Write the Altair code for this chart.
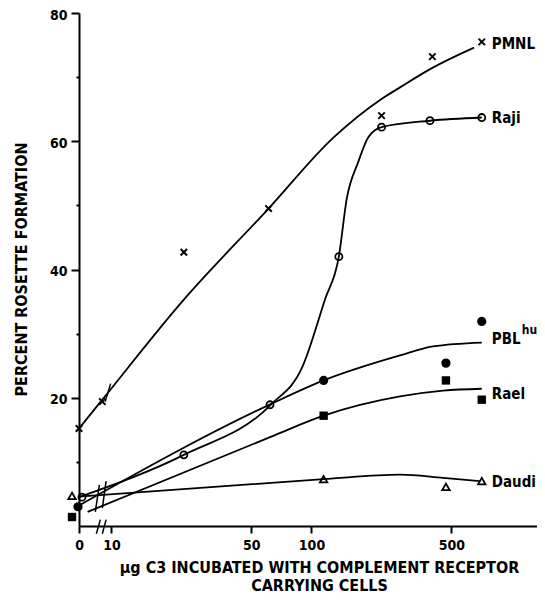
import altair as alt
import pandas as pd
import numpy as np

# ---------------- data ----------------
SERIES = ["PMNL", "Raji", "PBL", "Rael", "Daudi"]

# observed points (dose in µg C3, percent rosette formation)
PMNL_DOSE = [0, 9, 23, 61, 224, 402, 710]
PMNL_PCT = [15.2, 19.4, 42.7, 49.5, 64.0, 73.2, 75.5]
RAJI_DOSE = [0, 23, 62, 137, 224, 391, 710]
RAJI_PCT = [4.5, 11.1, 18.9, 42.0, 62.2, 63.2, 63.7]
PBL_DOSE = [0, 115, 470, 710]
PBL_PCT = [3.0, 22.7, 25.4, 31.9]
RAEL_DOSE = [0, 115, 470, 710]
RAEL_PCT = [1.4, 17.2, 22.7, 19.7]
DAUDI_DOSE = [0, 115, 470, 710]
DAUDI_PCT = [4.7, 7.3, 6.1, 7.0]

# hand-drawn curves
PMNL_CURVE_DOSE = [0, 9, 23, 61, 129, 224, 277, 400, 650]
PMNL_CURVE_PCT = [15.2, 19.7, 35.3, 49.5, 60.6, 66.6, 68.4, 71.4, 74.6]
RAJI_CURVE_DOSE = [0, 23, 62.5, 90, 117, 137, 150, 171, 192, 224, 391, 710]
RAJI_CURVE_PCT = [4.5, 11.1, 18.9, 24.8, 35.4, 42.0, 51.0, 56.7, 60.6, 62.2, 63.2, 63.7]
PBL_CURVE_DOSE = [0, 62.5, 115, 277, 405, 710]
PBL_CURVE_PCT = [3.2, 19.0, 22.7, 26.6, 28.0, 28.6]
RAEL_CURVE_DOSE = [7.6, 62.5, 115, 277, 455, 710]
RAEL_CURVE_PCT = [2.2, 13.9, 17.2, 20.2, 21.1, 21.4]
DAUDI_CURVE_DOSE = [0, 115, 277, 455, 700]
DAUDI_CURVE_PCT = [4.6, 7.3, 8.0, 7.5, 7.0]

# end labels
LABEL_TEXT = ["PMNL", "Raji", "PBL", "Rael", "Daudi"]
LABEL_DOSE = [710, 710, 710, 710, 710]
LABEL_Y = [75.1, 63.7, 29.2, 20.6, 6.9]

# axis ticks
X_TICKS = [0, 10, 50, 100, 500]
Y_TICKS = [10, 20, 30, 40, 50, 60, 70, 80]

# axis-break strokes (x1, y1, x2, y2 in data units)
BREAK_X1 = [8.3, 9.0, 9.3, 8.4, 9.0]
BREAK_Y1 = [2.2, 2.8, 19.4, -1.2, -1.2]
BREAK_X2 = [8.7, 9.4, 9.9, 8.8, 9.4]
BREAK_Y2 = [6.4, 7.0, 22.2, 1.0, 1.0]

# ---------------- layout / style ----------------
ZERO_AT = 6.88      # where the "0" dose sits on the broken log axis
X_MAX = 1341
FONT = "DejaVu Sans Condensed, Liberation Sans Narrow, DejaVu Sans, sans-serif"
ZERO_DX = {"PMNL": 0, "Raji": 3, "PBL": -1, "Rael": -7, "Daudi": -7}


def xpos(d):
    d = np.asarray(d, dtype=float)
    return np.where(d == 0, ZERO_AT, d)


pts = {
    "PMNL": (PMNL_DOSE, PMNL_PCT),
    "Raji": (RAJI_DOSE, RAJI_PCT),
    "PBL": (PBL_DOSE, PBL_PCT),
    "Rael": (RAEL_DOSE, RAEL_PCT),
    "Daudi": (DAUDI_DOSE, DAUDI_PCT),
}
curves = {
    "PMNL": (PMNL_CURVE_DOSE, PMNL_CURVE_PCT),
    "Raji": (RAJI_CURVE_DOSE, RAJI_CURVE_PCT),
    "PBL": (PBL_CURVE_DOSE, PBL_CURVE_PCT),
    "Rael": (RAEL_CURVE_DOSE, RAEL_CURVE_PCT),
    "Daudi": (DAUDI_CURVE_DOSE, DAUDI_CURVE_PCT),
}

pts_df = pd.concat([
    pd.DataFrame({"series": s, "dose": d, "pct": p, "x": xpos(d)})
    for s, (d, p) in pts.items()
])
curve_df = pd.concat([
    pd.DataFrame({"series": s, "dose": d, "pct": p, "x": xpos(d), "order": range(len(d))})
    for s, (d, p) in curves.items()
])
label_df = pd.DataFrame({"name": LABEL_TEXT, "x": LABEL_DOSE, "pct": LABEL_Y})
break_df = pd.DataFrame({"x": BREAK_X1, "pct": BREAK_Y1, "x2": BREAK_X2, "y2": BREAK_Y2})

x_scale = alt.Scale(type="log", domain=[ZERO_AT, X_MAX], nice=False)
y_scale = alt.Scale(domain=[0, 80], nice=False, zero=False)

X_TITLE = ["\u00b5g C3  INCUBATED WITH COMPLEMENT RECEPTOR", "CARRYING  CELLS"]
Y_TITLE = "PERCENT  ROSETTE  FORMATION"

x_axis = alt.Axis(
    values=[ZERO_AT if v == 0 else v for v in X_TICKS],
    labelExpr="datum.value < 9 ? '0' : format(datum.value, 'd')",
    grid=False, tickSize=7, tickWidth=2, domainWidth=2, domainColor="black",
    tickColor="black", labelFont=FONT, labelFontSize=14, labelFontWeight="bold",
    labelColor="black", labelPadding=5, labelFlush=False, labelOverlap=False,
    titleFont=FONT, titleFontSize=16, titleFontWeight="bold", titleColor="black",
    titleX=240, titleY=33, titleAnchor="middle", titleAlign="center",
    titleBaseline="top", titleLineHeight=18,
)
y_axis = alt.Axis(
    values=Y_TICKS,
    labelExpr="datum.value % 20 == 0 ? datum.label : ''",
    grid=False, tickWidth=2, domainWidth=2, domainColor="black", tickColor="black",
    tickSize={"condition": {"test": "datum.value % 20 == 0", "value": 8}, "value": 3},
    labelFont=FONT, labelFontSize=14, labelFontWeight="bold", labelColor="black",
    labelPadding=4, labelOffset=2,
    titleFont=FONT, titleFontSize=16, titleFontWeight="bold", titleColor="black",
    titleX=-58, titleY=256, titleAngle=-90, titleAlign="center", titleBaseline="middle",
)


def XE():
    return alt.X("x:Q", scale=x_scale, axis=x_axis, title=X_TITLE)


def YE():
    return alt.Y("pct:Q", scale=y_scale, axis=y_axis, title=Y_TITLE)


layers = []
for s in SERIES:
    layers.append(
        alt.Chart(curve_df).transform_filter(alt.datum.series == s).mark_line(
            color="black", strokeWidth=1.8, interpolate="monotone", clip=False
        ).encode(x=XE(), y=YE(), order="order:O")
    )

marker_style = {
    "PMNL": dict(shape="M-1,-1L1,1M-1,1L1,-1", filled=False, size=42, strokeWidth=2),
    "Raji": dict(shape="circle", filled=False, size=50, strokeWidth=1.8),
    "PBL": dict(shape="circle", filled=True, size=85),
    "Rael": dict(shape="square", filled=True, size=70),
    "Daudi": dict(shape="triangle-up", filled=False, size=55, strokeWidth=1.8),
}
for s in SERIES:
    st = marker_style[s]
    src = alt.Chart(pts_df).transform_filter(alt.datum.series == s)
    layers.append(
        src.transform_filter(alt.datum.dose > 0)
        .mark_point(color="black", opacity=1, clip=False, **st)
        .encode(x=XE(), y=YE())
    )
    layers.append(
        src.transform_filter(alt.datum.dose == 0)
        .mark_point(color="black", opacity=1, clip=False, xOffset=ZERO_DX[s], **st)
        .encode(x=XE(), y=YE())
    )

# axis-break strokes
layers.append(
    alt.Chart(break_df).mark_rule(color="black", strokeWidth=1.5, clip=False).encode(
        x=XE(), y=YE(), x2="x2:Q", y2="y2:Q",
    )
)

# end labels
layers.append(
    alt.Chart(label_df).mark_text(
        align="left", baseline="middle", dx=10, font=FONT, fontSize=15,
        fontWeight="bold", color="black", clip=False,
    ).encode(x=XE(), y=YE(), text="name:N")
)
layers.append(
    alt.Chart(label_df).transform_filter(alt.datum.name == "PBL").mark_text(
        align="left", baseline="middle", dx=40, dy=-9, font=FONT, fontSize=12,
        fontWeight="bold", color="black", clip=False,
    ).encode(x=XE(), y=YE(), text=alt.value("hu"))
)

chart = alt.layer(*layers).properties(
    width=458, height=513,
    autosize=alt.AutoSizeParams(type="none"),
    padding={"left": 71, "top": 5, "right": 0, "bottom": 68},
    background="white",
).configure_view(stroke=None)

chart.save("out.html", embed_options={"renderer": "svg", "actions": False})
